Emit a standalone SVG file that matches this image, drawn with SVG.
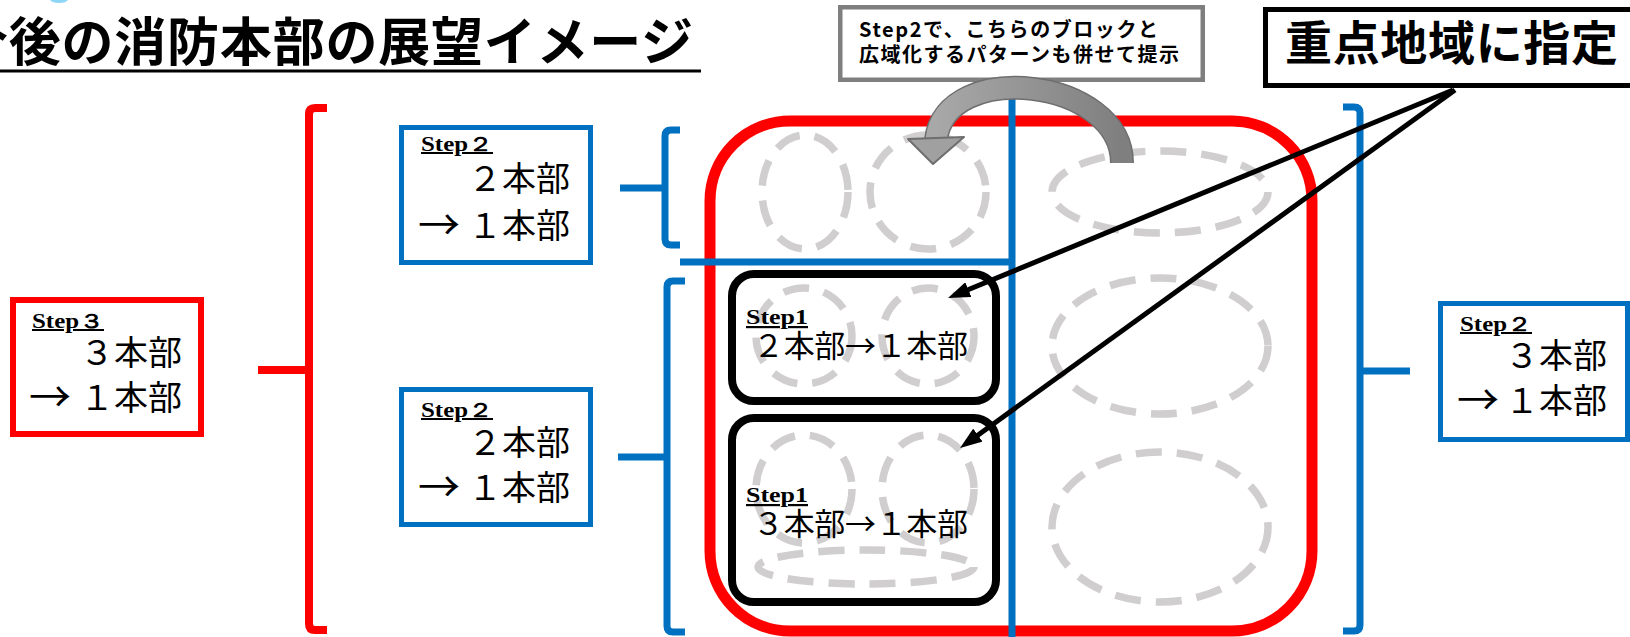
<svg xmlns="http://www.w3.org/2000/svg" width="1630" height="637" viewBox="0 0 1630 637">
<style>
.jp{font-family:"Noto Sans CJK JP","Noto Sans",sans-serif;}
.b{font-weight:700;}
.step{font-family:"Liberation Serif",serif;font-weight:700;text-decoration:underline;}
.blue{fill:#fff;stroke:#0070c0;stroke-width:5;}
.redbox{fill:#fff;stroke:#ff0000;stroke-width:6;}
.zone{fill:none;stroke:#d0cece;stroke-width:7.5;stroke-dasharray:26 15;}
.blk{fill:none;stroke:#000;stroke-width:8;}
.bl{fill:none;stroke:#0070c0;stroke-width:7;}
.rd{fill:none;stroke:#ff0000;stroke-width:8;}
</style>
<defs>
<marker id="ah" markerUnits="userSpaceOnUse" markerWidth="22" markerHeight="16" viewBox="0 0 22 16" refX="7" refY="8" orient="auto">
<path d="M0,0 L22,8 L0,16 z" fill="#000"/>
</marker>
<linearGradient id="ga" x1="0" y1="0" x2="1" y2="0">
<stop offset="0" stop-color="#a8a8a8"/>
<stop offset="1" stop-color="#7f7f7f"/>
</linearGradient>
</defs>
<rect width="1630" height="637" fill="#fff"/>

<g id="title">
<path d="M50,0 H68 Q66,3 59,3 Q52,3 50,0 z" fill="#8ed6f6"/>
<text class="jp b" x="-44" y="61" font-size="52" textLength="737">今後の消防本部の展望イメージ</text>
<rect x="0" y="69.5" width="701" height="3" fill="#000"/>
</g>

<g id="region">
<rect x="710" y="121" width="602" height="510" rx="80" fill="none" stroke="#ff0000" stroke-width="11"/>
<line x1="1012" y1="95" x2="1012" y2="637" stroke="#0070c0" stroke-width="7"/>
<line x1="680" y1="262" x2="1012" y2="262" stroke="#0070c0" stroke-width="7"/>
</g>

<g id="zones">
<ellipse class="zone" cx="805" cy="192" rx="43" ry="57"/>
<ellipse class="zone" cx="928" cy="192" rx="58" ry="57"/>
<ellipse class="zone" cx="1160" cy="192" rx="108" ry="41"/>
<ellipse class="zone" cx="1160" cy="346" rx="108" ry="68"/>
<ellipse class="zone" cx="1160" cy="527" rx="108" ry="75"/>
<ellipse class="zone" cx="804" cy="336" rx="48" ry="48"/>
<ellipse class="zone" cx="928" cy="336" rx="46" ry="48"/>
<ellipse class="zone" cx="804" cy="489" rx="48" ry="54"/>
<ellipse class="zone" cx="928" cy="489" rx="46" ry="54"/>
<ellipse class="zone" cx="866" cy="567" rx="108" ry="17"/>
</g>

<g id="step1-a">
<rect class="blk" x="732" y="274" width="264" height="127" rx="22"/>
<text class="step" x="746" y="324" font-size="22" textLength="62" lengthAdjust="spacingAndGlyphs">Step1</text>
<text class="jp" x="753" y="357" font-size="31" textLength="215">２本部→１本部</text>
</g>

<g id="step1-b">
<rect class="blk" x="732" y="418" width="264" height="184" rx="22"/>
<text class="step" x="746" y="502" font-size="22" textLength="62" lengthAdjust="spacingAndGlyphs">Step1</text>
<text class="jp" x="753" y="535" font-size="31" textLength="215">３本部→１本部</text>
</g>

<g id="brackets">
<path class="rd" d="M327,108 H315 Q309,108 309,114 V624 Q309,630 315,630 H327 M258,370 H309"/>
<path class="bl" d="M680,130 H671 Q665,130 665,136 V239 Q665,245 671,245 H680 M620,188 H665"/>
<path class="bl" d="M685,281 H673 Q667,281 667,287 V626 Q667,632 673,632 H685 M618,457 H667"/>
<path class="bl" d="M1343,107 H1354 Q1360,107 1360,113 V625 Q1360,631 1354,631 H1343 M1410,371 H1360"/>
</g>

<g id="step3-box">
<rect class="redbox" x="13" y="300" width="188" height="134"/>
<text class="step" x="32" y="328" font-size="20" textLength="72" lengthAdjust="spacingAndGlyphs">Step３</text>
<text class="jp" x="182" y="365" font-size="34" text-anchor="end">３本部</text>
<text class="jp" x="29" y="410" font-size="34"><tspan font-size="42" dy="2">→</tspan><tspan x="80" dy="-2">１本部</tspan></text>
</g>

<g id="step2-upper">
<rect class="blue" x="401.5" y="127.5" width="189" height="135"/>
<text class="step" x="421" y="151" font-size="20" textLength="72" lengthAdjust="spacingAndGlyphs">Step２</text>
<text class="jp" x="570" y="191" font-size="34" text-anchor="end">２本部</text>
<text class="jp" x="418" y="238" font-size="34"><tspan font-size="42" dy="2">→</tspan><tspan x="468" dy="-2">１本部</tspan></text>
</g>

<g id="step2-lower">
<rect class="blue" x="401.5" y="389.5" width="189" height="135"/>
<text class="step" x="421" y="417" font-size="20" textLength="72" lengthAdjust="spacingAndGlyphs">Step２</text>
<text class="jp" x="570" y="455" font-size="34" text-anchor="end">２本部</text>
<text class="jp" x="418" y="500" font-size="34"><tspan font-size="42" dy="2">→</tspan><tspan x="468" dy="-2">１本部</tspan></text>
</g>

<g id="step2-right">
<rect class="blue" x="1440.5" y="303.5" width="187" height="136"/>
<text class="step" x="1460" y="331" font-size="20" textLength="72" lengthAdjust="spacingAndGlyphs">Step２</text>
<text class="jp" x="1607" y="368" font-size="34" text-anchor="end">３本部</text>
<text class="jp" x="1457" y="413" font-size="34"><tspan font-size="42" dy="2">→</tspan><tspan x="1505" dy="-2">１本部</tspan></text>
</g>

<g id="note-box">
<rect x="840.25" y="7.25" width="362.5" height="72.5" fill="#fff" stroke="#7f7f7f" stroke-width="4.5"/>
<text class="jp b" x="859" y="37" font-size="20" textLength="299">Step2で、こちらのブロックと</text>
<text class="jp b" x="859" y="62" font-size="20" textLength="320">広域化するパターンも併せて提示</text>
</g>

<g id="focus-box">
<rect x="1265.5" y="9.5" width="400" height="76" fill="#fff" stroke="#000" stroke-width="5"/>
<text class="jp b" x="1285" y="60" font-size="47" textLength="333">重点地域に指定</text>
</g>

<g id="connectors">
<path d="M1122,163 C1122,78 945,58 936,140" fill="none" stroke="#6e6e6e" stroke-width="24"/>
<path d="M1122,163 C1122,78 945,58 936,140" fill="none" stroke="url(#ga)" stroke-width="21"/>
<polygon points="908,139 964,137 933,164" fill="#a0a0a0" stroke="#6e6e6e" stroke-width="2" stroke-linejoin="round"/>
<line x1="1453" y1="90" x2="961.9" y2="292.3" stroke="#000" stroke-width="5" marker-end="url(#ah)"/>
<line x1="1455" y1="90" x2="972.2" y2="439.2" stroke="#000" stroke-width="5" marker-end="url(#ah)"/>
</g>
</svg>
